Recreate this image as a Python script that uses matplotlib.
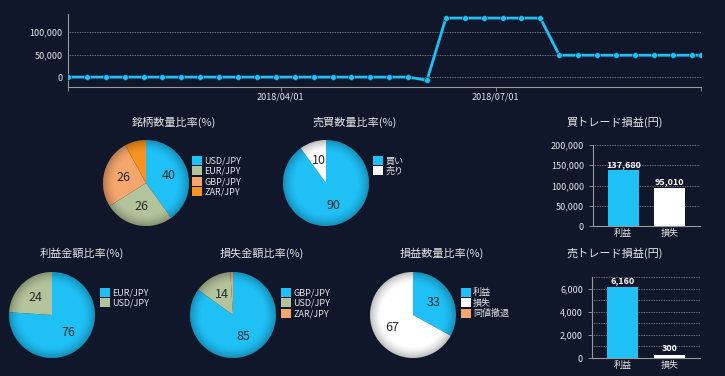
import matplotlib
matplotlib.use('Agg')
import matplotlib.pyplot as plt
import matplotlib.dates as mdates
from matplotlib.ticker import FuncFormatter, MultipleLocator, FixedLocator
import numpy as np
import pandas as pd

plt.rcParams['font.family'] = ['Noto Sans CJK JP', 'DejaVu Sans']

# --- data ---
eq_dates = list(pd.date_range('2018-01-01', periods=34, freq='8D')) + [pd.Timestamp('2018-09-26')]
eq_values = [0, 0, 0, 0, 0, 0, 0, 0, 0, 0, 0, 0, 0, 0, 0, 0, 0, 0, 0, -7000,
             131000, 131000, 131000, 131000, 131000, 131000,
             48530, 48530, 48530, 48530, 48530, 48530, 48530, 48530, 48530]

pair_labels = ['USD/JPY', 'EUR/JPY', 'GBP/JPY', 'ZAR/JPY']
pair_counts = [40, 26, 26, 8]

side_labels = ['買い', '売り']
side_counts = [90, 10]

profit_labels = ['EUR/JPY', 'USD/JPY']
profit_share = [76, 24]

loss_labels = ['GBP/JPY', 'USD/JPY', 'ZAR/JPY']
loss_share = [85, 14, 1]

result_labels = ['利益', '損失', '同値撤退']
result_counts = [33, 67, 0]

bar_cats = ['利益', '損失']
buy_pl = [137680, 95010]
sell_pl = [6160, 300]

# --- style ---
BG = '#10172a'
CYAN = '#1ec0f6'
SAGE = '#b3c39b'
LORANGE = '#f4a66c'
ORANGE = '#f7931e'
WHITE = '#ffffff'
TXT = '#e4e4e4'
SPINE = '#9a9a9a'
W, H = 725, 376

fig = plt.figure(figsize=(7.25, 3.76), dpi=100, facecolor=BG)


def px_axes(x0, y0, w, h):
    return fig.add_axes([x0 / W, 1 - (y0 + h) / H, w / W, h / H])


comma = FuncFormatter(lambda v, p: f'{int(v):,}')

# --- top line chart ---
ax = px_axes(68, 14, 633, 73)
ax.set_facecolor(BG)
ax.plot(eq_dates, eq_values, color=CYAN, lw=2.0, marker='o', markersize=4.2,
        mec='#0b3550', mew=0.5, zorder=3)
x0, x1 = pd.Timestamp('2018-01-01'), pd.Timestamp('2018-09-26')
ax.set_ylim(-22000, 140000)
ax.set_xlim(x0, x1)
ax.set_yticks([0, 50000, 100000])
ax.yaxis.set_major_formatter(comma)
ax.set_xticks([pd.Timestamp('2018-04-01'), pd.Timestamp('2018-07-01')])
ax.xaxis.set_minor_locator(FixedLocator([mdates.date2num(x0), mdates.date2num(x1)]))
ax.xaxis.set_major_formatter(mdates.DateFormatter('%Y/%m/%d'))
ax.grid(axis='y', color='#8a8a8a', ls=(0, (1, 1)), lw=0.6)
for s in ['top', 'right']:
    ax.spines[s].set_visible(False)
for s in ['left', 'bottom']:
    ax.spines[s].set_color(SPINE)
ax.tick_params(colors=SPINE, labelcolor=TXT, labelsize=6.5, length=3, width=0.6, pad=1)
ax.tick_params(axis='x', which='minor', length=3, width=0.6, colors=SPINE)
ax.tick_params(axis='y', length=0, pad=4)


# --- pies ---
def draw_pie(cx, cy, vals, labels, colors, title, tx, ty, lx, ly):
    pax = px_axes(cx - 43, cy - 43, 86, 86)
    wedges, _ = pax.pie(vals, colors=colors, startangle=90, counterclock=False,
                        radius=1, wedgeprops=dict(linewidth=0))
    # soft rim shading
    g = np.linspace(-1, 1, 200)
    xx, yy = np.meshgrid(g, g)
    rr = np.sqrt(xx ** 2 + yy ** 2)
    shade = np.zeros((200, 200, 4))
    shade[..., 3] = 0.26 * np.clip((rr - 0.72) / 0.28, 0, 1) ** 1.6
    im = pax.imshow(shade, extent=[-1, 1, -1, 1], zorder=2)
    circ = plt.Circle((0, 0), 1, transform=pax.transData)
    im.set_clip_path(circ)
    for wdg, v in zip(wedges, vals):
        if v >= 10:
            a = np.deg2rad((wdg.theta1 + wdg.theta2) / 2)
            pax.text(0.55 * np.cos(a), 0.55 * np.sin(a), str(v), ha='center',
                     va='center', fontsize=9, color='#2a2a2a', zorder=4)
    pax.set_xlim(-1.0, 1.0)
    pax.set_ylim(-1.0, 1.0)
    pax.axis('off')
    fig.text(tx / W, 1 - ty / H, title, ha='center', va='center', color=TXT, fontsize=8)
    fig.legend(wedges, labels, loc='upper left', bbox_to_anchor=(lx / W, 1 - ly / H),
               frameon=False, fontsize=6.5, labelcolor=TXT, handlelength=1.1,
               handleheight=1.1, handletextpad=0.25, labelspacing=0.12,
               borderpad=0, borderaxespad=0)


draw_pie(146, 183, pair_counts, pair_labels, [CYAN, SAGE, LORANGE, ORANGE],
         '銘柄数量比率(%)', 174, 122, 192, 156)
draw_pie(326, 183, side_counts, side_labels, [CYAN, WHITE],
         '売買数量比率(%)', 355, 122, 373, 156)
draw_pie(52, 315, profit_share, profit_labels, [CYAN, SAGE],
         '利益金額比率(%)', 82, 253, 100, 288)
draw_pie(233, 315, loss_share, loss_labels, [CYAN, SAGE, LORANGE],
         '損失金額比率(%)', 262, 253, 281, 288)
draw_pie(413, 315, result_counts, result_labels, [CYAN, WHITE, LORANGE],
         '損益数量比率(%)', 442, 253, 461, 288)


# --- bars ---
def draw_bar(rect, vals, ymax, major, minor, title, tx, ty):
    bax = px_axes(*rect)
    bax.set_facecolor(BG)
    bax.bar(range(len(vals)), vals, width=0.67, color=[CYAN, WHITE], zorder=3)
    for i, v in enumerate(vals):
        bax.annotate(f'{v:,}', (i, v), xytext=(0, 1), textcoords='offset points',
                     ha='center', va='bottom', fontsize=6.5, color=WHITE,
                     fontweight='bold', zorder=4)
    bax.set_xlim(-0.65, 1.65)
    bax.set_ylim(0, ymax)
    bax.set_xticks(range(len(vals)), bar_cats)
    bax.yaxis.set_major_locator(MultipleLocator(major))
    bax.yaxis.set_minor_locator(MultipleLocator(minor))
    bax.yaxis.set_major_formatter(comma)
    bax.grid(axis='y', which='both', color='#8a8a8a', ls=(0, (1, 1)), lw=0.6)
    for s in ['top', 'right']:
        bax.spines[s].set_visible(False)
    for s in ['left', 'bottom']:
        bax.spines[s].set_color(SPINE)
    bax.tick_params(colors=SPINE, labelcolor=TXT, labelsize=6.5, length=3, width=0.6)
    bax.tick_params(axis='x', length=0, pad=2)
    bax.tick_params(axis='y', which='minor', length=0)
    fig.text(tx / W, 1 - ty / H, title, ha='center', va='center', color=TXT, fontsize=8)


draw_bar((593, 145, 107, 81), buy_pl, 200000, 50000, 50000, '買トレード損益(円)', 615, 122)
draw_bar((592, 277, 108, 81), sell_pl, 7000, 2000, 1000, '売トレード損益(円)', 615, 253)

fig.savefig('out.png', dpi=100, facecolor=BG)
